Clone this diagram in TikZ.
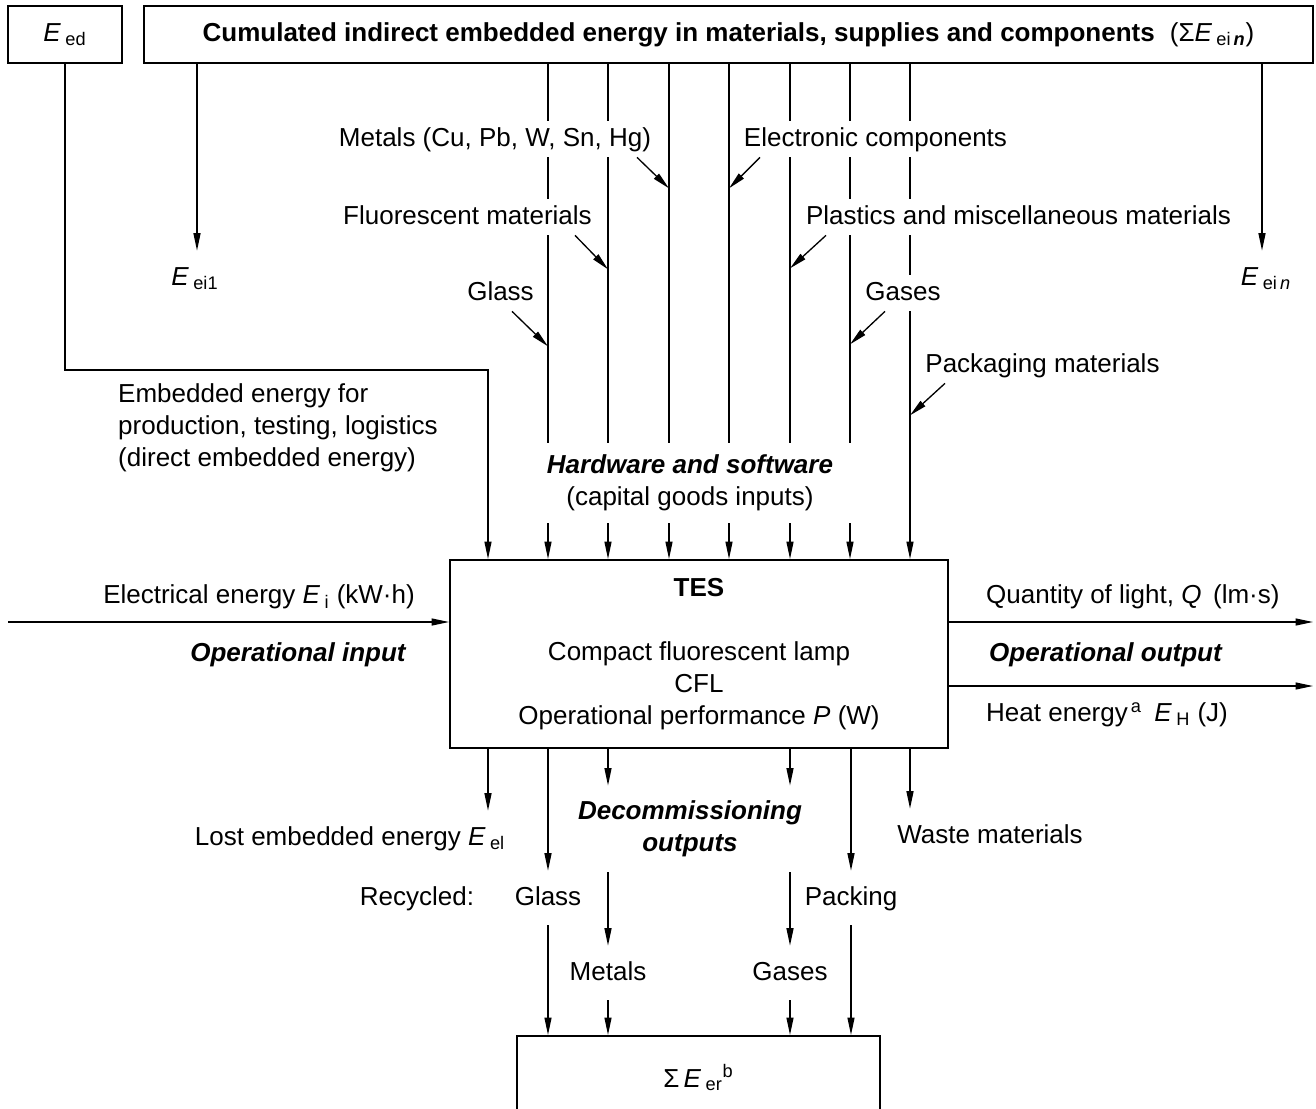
\documentclass[tikz,border=0pt]{standalone}
\usepackage{fontspec}
\setmainfont{Liberation Sans}
\usetikzlibrary{arrows.meta,calc}

\begin{document}
\begin{tikzpicture}[
  x=0.02cm, y=-0.02cm,
  >={Triangle[length=3.5mm,width=1.4mm]},
  font=\fontsize{14.8pt}{18.2pt}\selectfont,
  blk/.style={draw=black, line width=1.1pt, inner sep=0pt},
  flow/.style={->, line width=0.75pt, draw=black},
  lbl/.style={fill=white, inner xsep=2pt, inner ysep=0.12cm,
              text height=0.38cm, text depth=0.1cm},
  tag/.style={inner xsep=2pt, inner ysep=0.3cm,
              text height=0.38cm, text depth=0.1cm},
  hdr/.style={font=\fontsize{14.8pt}{18.2pt}\selectfont\bfseries\itshape},
]
\useasboundingbox (0,0) rectangle (1316,1109);

% ---------------- top boxes ----------------
\node[blk, minimum width=2.28cm, minimum height=1.14cm] (ed) at (65,34.5)
  {\textit{E}\,\textsubscript{ed}};
\node[blk, minimum width=23.38cm, minimum height=1.14cm] (top) at (728.5,34.5)
  {\textbf{Cumulated indirect embedded energy in materials, supplies and components}\hspace{0.3cm}(Σ\textit{E}\,\textsubscript{ei\,\textbf{\textit{n}}})};

% ---------------- system under study ----------------
\node[blk, minimum width=9.96cm, minimum height=3.76cm, align=center] (tes) at (699,654)
  {\textbf{TES}\\[0.64cm] Compact fluorescent lamp\\ CFL\\ Operational performance \textit{P} (W)};

% ---------------- recycled energy ----------------
\node[blk, minimum width=7.26cm, minimum height=1.68cm, anchor=north] (er) at (698.5,1035)
  {Σ\,\textit{E}\,\textsubscript{er}\textsuperscript{b}};

% ---------------- indirect embedded energy ----------------
\node[tag] (ei1) at (195,278) {\textit{E}\,\textsubscript{ei1}};
\node[tag] (ein) at (1266,278) {\textit{E}\,\textsubscript{ei\,\textit{n}}};
\draw[flow] (197,0 |- top.south) -- (197,0 |- ei1.north);
\draw[flow] (1262,0 |- top.south) -- (1262,0 |- ein.north);

\foreach \x in {548,608,669,729,790,850,910}
  \draw[flow] (\x,0 |- top.south) -- (\x,0 |- tes.north);

% ---------------- direct embedded energy ----------------
\coordinate (bend) at (488,370);
\draw[flow] (ed.south) |- (bend) -- (bend |- tes.north);
\node[anchor=west, align=left] (direct) at (112,428)
  {Embedded energy for\\ production, testing, logistics\\ (direct embedded energy)};

% ---------------- material labels ----------------
\node[lbl] (metals) at (495,139) {Metals (Cu, Pb, W, Sn, Hg)};
\node[lbl] (elec) at (875.5,139) {Electronic components};
\node[lbl] (fluor) at (467.5,217) {Fluorescent materials};
\node[lbl] (plast) at (1018.5,217) {Plastics and miscellaneous materials};
\node[lbl] (glassin) at (500.5,293) {Glass};
\node[lbl] (gasin) at (903,293) {Gases};
\node[lbl] (pack) at (1042.5,365) {Packaging materials};

\draw[flow] (637,0 |- metals.south) -- ++(32,31);
\draw[flow] (760,0 |- elec.south) -- ++(-31,31);
\draw[flow] (575,0 |- fluor.south) -- ++(33,34);
\draw[flow] (826,0 |- plast.south) -- ++(-36,33);
\draw[flow] (512,0 |- glassin.south) -- ++(36,35);
\draw[flow] (885,0 |- gasin.south) -- ++(-35,33);
\draw[flow] (945,0 |- pack.south) -- ++(-35,32);

\node[fill=white, align=center, inner xsep=0.4cm, inner ysep=0.24cm] (hw) at (690,483)
  {\textbf{\textit{Hardware and software}}\\ (capital goods inputs)};

% ---------------- operational flows ----------------
\coordinate (ein0) at (8,622);
\coordinate (qend) at (1313,622);
\coordinate (hend) at (1313,686);
\draw[flow] (ein0) -- (ein0 -| tes.west);
\draw[flow] (qend -| tes.east) -- (qend);
\draw[flow] (hend -| tes.east) -- (hend);

\node (elin) at (259,597) {Electrical energy \textit{E}\,\textsubscript{i} (kW·h)};
\node[hdr] (opin) at (298,655) {Operational input};
\node[anchor=west] (qlight) at (980,597) {Quantity of light, \textit{Q}\, (lm·s)};
\node[hdr, anchor=west] (opout) at (983,655) {Operational output};
\node[anchor=west] (heat) at (980,715)
  {Heat energy\textsuperscript{\,a}\hspace{0.25cm}\textit{E}\,\textsubscript{H} (J)};

% ---------------- decommissioning ----------------
\node[tag] (lost) at (350,838) {Lost embedded energy \textit{E}\,\textsubscript{el}};
\node[hdr, align=center, inner ysep=0.3cm] (dec) at (690,829) {Decommissioning\\ outputs};
\node[tag] (waste) at (990,836) {Waste materials};
\node[tag] (recyc) at (417,898) {Recycled:};
\node[tag] (glassout) at (548,898) {Glass};
\node[tag] (packout) at (851,898) {Packing};
\node[tag] (metout) at (608,973) {Metals};
\node[tag] (gasout) at (790,973) {Gases};

\draw[flow] (488,0 |- tes.south) -- (488,0 |- lost.north);
\draw[flow] (tes.south -| glassout) -- (glassout.north);
\draw[flow] (tes.south -| metout) -- (metout |- dec.north);
\draw[flow] (tes.south -| gasout) -- (gasout |- dec.north);
\draw[flow] (tes.south -| packout) -- (packout.north);
\draw[flow] (910,0 |- tes.south) -- (910,0 |- waste.north);

\draw[flow] (metout |- dec.south) -- (metout.north);
\draw[flow] (gasout |- dec.south) -- (gasout.north);
\draw[flow] (glassout.south) -- (glassout |- er.north);
\draw[flow] (metout.south) -- (metout |- er.north);
\draw[flow] (gasout.south) -- (gasout |- er.north);
\draw[flow] (packout.south) -- (packout |- er.north);

\end{tikzpicture}
\end{document}
